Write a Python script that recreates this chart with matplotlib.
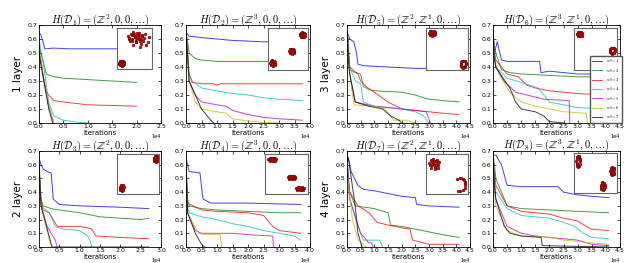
import matplotlib
matplotlib.use("Agg")
from matplotlib import pyplot as plt
import numpy as np

plt.rcParams['mathtext.fontset'] = 'cm'

# x values in units of 1e4 iterations, y = loss
# order of series: w0 = 1..7 (b, g, r, c, m, y, k)
p1 = [
    ([0, 0.05, 0.12, 0.3, 0.6, 1.0, 1.5, 2.0], [0.65, 0.62, 0.53, 0.535, 0.53, 0.53, 0.53, 0.53]),
    ([0, 0.08, 0.15, 0.3, 0.5, 1.0, 1.5, 2.0], [0.55, 0.45, 0.35, 0.33, 0.32, 0.31, 0.3, 0.29]),
    ([0, 0.08, 0.15, 0.3, 0.5, 1.0, 1.5, 2.0], [0.55, 0.35, 0.22, 0.16, 0.15, 0.13, 0.125, 0.12]),
    ([0, 0.1, 0.2, 0.3, 0.5, 0.8, 1.0], [0.6, 0.4, 0.15, 0.05, 0.02, 0.005, 0.0]),
    ([0, 0.1, 0.2, 0.3], [0.5, 0.3, 0.12, 0.0]),
    ([0, 0.1, 0.2, 0.3], [0.52, 0.32, 0.12, 0.0]),
    ([0, 0.1, 0.2, 0.28], [0.5, 0.3, 0.1, 0.0]),
]
p2 = [
    ([0, 0.1, 0.5, 1.0, 1.5, 2.0, 2.5, 3.0, 3.75], [0.65, 0.62, 0.61, 0.6, 0.59, 0.585, 0.58, 0.58, 0.58]),
    ([0, 0.1, 0.3, 0.5, 1.0, 2.0, 3.0, 3.75], [0.67, 0.5, 0.46, 0.45, 0.44, 0.44, 0.44, 0.44]),
    ([0, 0.1, 0.2, 0.5, 0.9, 1.0, 1.1, 2.0, 3.0, 3.75], [0.66, 0.35, 0.29, 0.28, 0.28, 0.27, 0.28, 0.28, 0.28, 0.28]),
    ([0, 0.1, 0.2, 0.5, 1.0, 1.5, 2.0, 2.5, 3.0, 3.75], [0.66, 0.35, 0.3, 0.25, 0.23, 0.21, 0.2, 0.18, 0.17, 0.16]),
    ([0, 0.1, 0.3, 0.5, 1.0, 1.3, 1.5, 2.0, 2.5, 3.0, 3.75], [0.66, 0.3, 0.2, 0.15, 0.13, 0.12, 0.09, 0.06, 0.04, 0.03, 0.02]),
    ([0, 0.1, 0.3, 0.5, 1.0, 1.3, 1.5, 2.0, 2.5, 3.0], [0.66, 0.3, 0.15, 0.1, 0.08, 0.07, 0.03, 0.015, 0.005, 0.0]),
    ([0, 0.1, 0.2, 0.5, 0.8, 0.9], [0.66, 0.3, 0.25, 0.1, 0.02, 0.0]),
]
p3 = [
    ([0, 0.05, 0.1, 0.25, 0.35, 0.4, 0.6, 1.0, 1.5, 2.0, 2.5, 3.0, 4.1], [0.65, 0.63, 0.6, 0.58, 0.5, 0.42, 0.41, 0.405, 0.4, 0.395, 0.39, 0.39, 0.39]),
    ([0, 0.05, 0.1, 0.3, 0.5, 0.6, 0.8, 1.0, 1.5, 2.0, 2.5, 2.8, 3.0, 3.5, 4.1], [0.65, 0.6, 0.38, 0.36, 0.35, 0.26, 0.24, 0.23, 0.225, 0.22, 0.2, 0.18, 0.17, 0.16, 0.15]),
    ([0, 0.05, 0.1, 0.4, 0.5, 0.7, 1.0, 1.5, 2.0, 2.5, 3.0, 3.5, 4.1], [0.65, 0.5, 0.4, 0.35, 0.3, 0.26, 0.22, 0.15, 0.1, 0.09, 0.08, 0.07, 0.06]),
    ([0, 0.05, 0.1, 0.3, 0.5, 0.6, 1.0, 1.5, 2.0, 2.5, 2.8, 3.0], [0.65, 0.5, 0.4, 0.3, 0.28, 0.15, 0.12, 0.11, 0.1, 0.08, 0.05, 0.0]),
    ([0, 0.05, 0.1, 0.3, 1.0, 1.5, 2.0, 2.5, 2.9, 3.05], [0.65, 0.45, 0.35, 0.15, 0.12, 0.11, 0.1, 0.09, 0.08, 0.0]),
    ([0, 0.05, 0.1, 0.25, 1.0, 1.4, 1.7, 2.2, 2.5], [0.6, 0.45, 0.35, 0.13, 0.12, 0.1, 0.02, 0.02, 0.0]),
    ([0, 0.05, 0.1, 0.3, 0.8, 1.3, 1.6, 1.9, 2.0], [0.65, 0.45, 0.35, 0.15, 0.12, 0.1, 0.05, 0.02, 0.0]),
]
p4 = [
    ([0, 0.05, 0.15, 0.3, 0.5, 1.0, 1.65, 1.7, 2.0, 2.5, 3.0, 3.5, 4.0], [0.6, 0.5, 0.58, 0.45, 0.44, 0.44, 0.44, 0.36, 0.37, 0.36, 0.35, 0.35, 0.35]),
    ([0, 0.05, 0.1, 0.3, 0.6, 1.0, 2.0, 3.0, 4.0], [0.66, 0.55, 0.5, 0.38, 0.36, 0.35, 0.34, 0.33, 0.33]),
    ([0, 0.05, 0.1, 0.5, 0.9, 1.2, 1.5, 2.0, 3.0, 4.0], [0.65, 0.5, 0.45, 0.35, 0.33, 0.27, 0.25, 0.23, 0.21, 0.2]),
    ([0, 0.05, 0.1, 0.5, 1.0, 1.6, 2.0, 2.5, 3.0, 4.0], [0.65, 0.5, 0.4, 0.32, 0.29, 0.25, 0.15, 0.13, 0.11, 0.1]),
    ([0, 0.05, 0.1, 0.5, 0.8, 1.2, 1.8, 2.7, 2.72], [0.65, 0.5, 0.4, 0.28, 0.22, 0.2, 0.17, 0.16, 0.0]),
    ([0, 0.05, 0.2, 0.6, 1.0, 1.5, 2.0, 2.5, 3.3, 3.35], [0.6, 0.45, 0.35, 0.22, 0.15, 0.12, 0.1, 0.08, 0.07, 0.0]),
    ([0, 0.05, 0.1, 0.4, 0.6, 0.7, 0.8, 1.0, 1.5, 1.8, 2.0, 2.5], [0.6, 0.45, 0.4, 0.3, 0.25, 0.2, 0.15, 0.1, 0.08, 0.05, 0.01, 0.0]),
]
p5 = [
    ([0, 0.05, 0.1, 0.2, 0.3, 0.35, 0.5, 1.0, 2.0, 2.7], [0.65, 0.6, 0.57, 0.55, 0.54, 0.35, 0.31, 0.3, 0.29, 0.28]),
    ([0, 0.05, 0.1, 0.3, 0.5, 1.0, 1.5, 2.0, 2.5, 2.7], [0.6, 0.35, 0.3, 0.28, 0.27, 0.25, 0.22, 0.21, 0.2, 0.21]),
    ([0, 0.05, 0.1, 0.25, 0.35, 0.45, 1.0, 1.2, 1.3, 1.4, 2.0, 2.7], [0.5, 0.35, 0.27, 0.25, 0.2, 0.15, 0.15, 0.14, 0.13, 0.08, 0.07, 0.06]),
    ([0, 0.05, 0.25, 0.4, 0.6, 1.0, 1.2, 1.25, 1.3], [0.65, 0.3, 0.25, 0.15, 0.13, 0.12, 0.08, 0.05, 0.0]),
    ([0, 0.05, 0.2, 0.3, 0.4, 0.45], [0.6, 0.3, 0.15, 0.1, 0.05, 0.0]),
    ([0, 0.05, 0.3], [0.6, 0.3, 0.0]),
    ([0, 0.05, 0.32, 2.7], [0.6, 0.3, 0.0, 0.0]),
]
p6 = [
    ([0, 0.05, 0.1, 0.45, 0.55, 0.8, 2.0, 3.7], [0.65, 0.6, 0.55, 0.54, 0.35, 0.32, 0.32, 0.31]),
    ([0, 0.05, 0.1, 0.5, 1.0, 2.0, 3.0, 3.7], [0.6, 0.35, 0.3, 0.28, 0.27, 0.26, 0.25, 0.25]),
    ([0, 0.05, 0.5, 1.0, 2.0, 2.5, 2.8, 3.0, 3.7], [0.6, 0.32, 0.27, 0.26, 0.25, 0.23, 0.15, 0.12, 0.1]),
    ([0, 0.05, 0.1, 0.5, 1.0, 1.5, 2.0, 2.5, 3.0, 3.5, 3.7], [0.65, 0.3, 0.25, 0.22, 0.2, 0.17, 0.15, 0.12, 0.1, 0.08, 0.05]),
    ([0, 0.05, 0.3, 0.5, 1.5, 2.0, 2.8, 2.82], [0.6, 0.25, 0.12, 0.1, 0.1, 0.09, 0.08, 0.0]),
    ([0, 0.05, 0.4, 0.6, 1.1, 1.15], [0.6, 0.25, 0.1, 0.09, 0.09, 0.0]),
    ([0, 0.05, 0.3, 0.5, 0.6], [0.6, 0.25, 0.1, 0.02, 0.0]),
]
p7 = [
    ([0, 0.05, 0.15, 0.4, 0.6, 1.0, 1.5, 2.0, 2.5, 2.55, 3.0, 3.5, 4.1], [0.65, 0.65, 0.55, 0.45, 0.42, 0.41, 0.39, 0.37, 0.36, 0.31, 0.3, 0.295, 0.29]),
    ([0, 0.05, 0.1, 0.3, 1.0, 1.5, 1.6, 2.0, 2.5, 3.0, 3.5, 4.1], [0.65, 0.5, 0.4, 0.3, 0.28, 0.25, 0.16, 0.15, 0.13, 0.11, 0.09, 0.07]),
    ([0, 0.05, 0.1, 0.4, 0.8, 1.1, 1.5, 2.0, 2.3, 2.4, 3.0, 4.1], [0.65, 0.5, 0.4, 0.3, 0.25, 0.18, 0.16, 0.14, 0.13, 0.05, 0.02, 0.02]),
    ([0, 0.05, 0.1, 0.4, 0.6, 1.2, 1.3], [0.65, 0.45, 0.35, 0.15, 0.05, 0.05, 0.0]),
    ([0, 0.05, 0.1, 0.5, 0.8, 0.9, 0.95], [0.65, 0.45, 0.35, 0.1, 0.03, 0.03, 0.0]),
    ([0, 0.05, 0.2, 0.4, 0.7], [0.6, 0.45, 0.2, 0.05, 0.0]),
    ([0, 0.05, 0.3, 0.4, 0.55], [0.65, 0.65, 0.3, 0.1, 0.0]),
]
p8 = [
    ([0, 0.1, 0.3, 0.5, 1.0, 2.3, 2.5, 3.0, 3.5, 4.1], [0.67, 0.67, 0.6, 0.45, 0.44, 0.44, 0.4, 0.38, 0.37, 0.36]),
    ([0, 0.05, 0.1, 0.5, 1.0, 2.0, 3.0, 4.1], [0.68, 0.6, 0.5, 0.3, 0.28, 0.27, 0.26, 0.25]),
    ([0, 0.05, 0.1, 0.5, 1.0, 2.0, 2.5, 3.0, 3.3, 3.5, 4.1], [0.66, 0.55, 0.45, 0.3, 0.26, 0.24, 0.21, 0.19, 0.15, 0.13, 0.12]),
    ([0, 0.05, 0.1, 0.5, 1.0, 2.0, 2.5, 2.9, 3.2, 3.5, 4.1], [0.66, 0.5, 0.4, 0.28, 0.23, 0.21, 0.18, 0.15, 0.1, 0.07, 0.06]),
    ([0, 0.05, 0.1, 0.5, 1.0, 1.5, 2.0, 3.0, 3.5, 4.1], [0.65, 0.45, 0.35, 0.15, 0.1, 0.08, 0.07, 0.05, 0.02, 0.01]),
    ([0, 0.05, 0.1, 0.5, 1.0, 2.0, 2.5, 3.0, 3.5, 4.1], [0.6, 0.4, 0.3, 0.12, 0.08, 0.07, 0.05, 0.04, 0.03, 0.02]),
    ([0, 0.05, 0.1, 0.4, 0.6, 1.0, 1.7, 1.75, 4.1], [0.65, 0.45, 0.35, 0.15, 0.1, 0.08, 0.07, 0.01, 0.0]),
]
panels = [p1, p2, p3, p4, p5, p6, p7, p8]

titles = [
    r'$H(\mathcal{D}_1) = (\mathbb{Z}^2, 0, 0, \ldots)$',
    r'$H(\mathcal{D}_2) = (\mathbb{Z}^3, 0, 0, \ldots)$',
    r'$H(\mathcal{D}_5) = (\mathbb{Z}^2, \mathbb{Z}^1, 0, \ldots)$',
    r'$H(\mathcal{D}_6) = (\mathbb{Z}^3, \mathbb{Z}^1, 0, \ldots)$',
    r'$H(\mathcal{D}_3) = (\mathbb{Z}^2, 0, 0, \ldots)$',
    r'$H(\mathcal{D}_4) = (\mathbb{Z}^3, 0, 0, \ldots)$',
    r'$H(\mathcal{D}_7) = (\mathbb{Z}^2, \mathbb{Z}^1, 0, \ldots)$',
    r'$H(\mathcal{D}_8) = (\mathbb{Z}^3, \mathbb{Z}^1, 0, \ldots)$',
]
xmax = [2.5, 4.0, 4.5, 4.5, 3.0, 4.0, 4.5, 4.5]
row_labels = ['1 layer', '2 layer', '3 layer', '4 layer']
legend_labels = [r'$w_0=%d$' % i for i in range(1, 8)]
colors = ['b', 'g', 'r', 'c', 'm', 'y', 'k']

# inset point clouds: unit offsets typed by hand
blob = [(0, 0), (0.5, 0.2), (-0.4, 0.3), (0.2, -0.6), (-0.7, -0.2), (0.8, -0.3),
        (-0.2, 0.8), (0.6, 0.7), (-0.6, -0.7), (0.3, 0.4), (-0.3, -0.3), (0.9, 0.3),
        (-0.9, 0.1), (0.1, -0.9), (0.4, -0.2), (-0.1, 0.5), (0.7, -0.7), (-0.5, 0.6)]
ring = [(1, 0), (0.9, 0.45), (0.55, 0.85), (0, 1), (-0.5, 0.88), (-0.85, 0.5),
        (-1, 0), (-0.88, -0.45), (-0.5, -0.85), (0, -1), (0.5, -0.88), (0.85, -0.5),
        (0.97, 0.2), (-0.95, -0.25), (0.2, 0.97), (-0.25, -0.95)]
arc = [(1, 0), (0.9, 0.45), (0.55, 0.85), (0, 1), (-0.5, 0.88), (0.5, -0.88),
       (0.85, -0.5), (0.97, 0.2), (0.2, 0.97), (0, -1), (-0.3, -0.95), (0.7, 0.7)]
# (cx, cy, rx, ry, shape)
clusters = [
    [(0.62, 0.72, 0.3, 0.2, 'blob'), (0.5, 0.78, 0.22, 0.14, 'blob'), (0.12, 0.15, 0.08, 0.07, 'blob')],
    [(0.87, 0.84, 0.07, 0.07, 'blob'), (0.6, 0.45, 0.07, 0.07, 'blob'), (0.12, 0.17, 0.07, 0.08, 'blob')],
    [(0.15, 0.88, 0.08, 0.07, 'blob'), (0.9, 0.14, 0.06, 0.08, 'ring')],
    [(0.12, 0.86, 0.07, 0.06, 'blob'), (0.88, 0.46, 0.06, 0.07, 'ring'), (0.72, 0.15, 0.06, 0.05, 'blob')],
    [(0.93, 0.88, 0.05, 0.08, 'blob'), (0.11, 0.16, 0.05, 0.08, 'blob')],
    [(0.16, 0.87, 0.1, 0.05, 'blob'), (0.62, 0.42, 0.1, 0.05, 'blob'), (0.82, 0.14, 0.1, 0.05, 'blob')],
    [(0.2, 0.76, 0.13, 0.14, 'blob'), (0.82, 0.24, 0.13, 0.16, 'arc')],
    [(0.09, 0.79, 0.04, 0.13, 'ring'), (0.88, 0.55, 0.05, 0.12, 'blob'), (0.66, 0.18, 0.05, 0.12, 'blob')],
]
shapes = {'blob': blob, 'ring': ring, 'arc': arc}

# axes rectangles in figure pixels (left, top, right, bottom)
W, H = 640, 263
boxes = [(39, 25, 161, 123), (186, 25, 310, 123), (347, 25, 470, 123), (493, 25, 620, 123),
         (39, 151, 161, 247), (186, 151, 310, 247), (347, 151, 470, 247), (493, 151, 620, 247)]
insets = [(0.64, 0.55, 0.29, 0.42), (0.66, 0.54, 0.32, 0.43), (0.64, 0.54, 0.34, 0.43), (0.64, 0.54, 0.34, 0.43),
          (0.64, 0.55, 0.34, 0.42), (0.64, 0.55, 0.34, 0.42), (0.64, 0.55, 0.34, 0.42), (0.64, 0.56, 0.34, 0.42)]

fig = plt.figure(figsize=(6.4, 2.63), dpi=100)

for i, data in enumerate(panels):
    l, t, r, b = boxes[i]
    ax = fig.add_axes([l / W, 1 - b / H, (r - l) / W, (b - t) / H])
    for j, (xs, ys) in enumerate(data):
        ax.plot(np.array(xs) * 1e4, ys, color=colors[j], lw=0.7, alpha=0.75, label=legend_labels[j])
    ax.set_xlim(0, xmax[i] * 1e4)
    ax.set_ylim(0, 0.7)
    ax.set_yticks(np.arange(0, 0.71, 0.1))
    ax.set_xticks(np.arange(0, xmax[i] * 1e4 + 1, 5000))
    ax.ticklabel_format(axis='x', style='sci', scilimits=(0, 0))
    ax.xaxis.get_offset_text().set_fontsize(3.5)
    ax.tick_params(labelsize=4.5, direction='in', top=True, right=True, length=2, width=0.5, pad=1)
    for s in ax.spines.values():
        s.set_linewidth(0.6)
    ax.set_title(titles[i], fontsize=7.5, pad=1.5)
    ax.set_xlabel('Iterations', fontsize=5, labelpad=0.5)

    ins = ax.inset_axes(insets[i])
    ins.set_facecolor('white')
    ins.set_zorder(5)
    for cx, cy, rx, ry, kind in clusters[i]:
        px = [cx + dx * rx for dx, dy in shapes[kind]]
        py = [cy + dy * ry for dx, dy in shapes[kind]]
        ins.scatter(px, py, s=4, color='#cc0000', edgecolor='#550000', linewidth=0.3)
    ins.set_xlim(0, 1)
    ins.set_ylim(0, 1)
    ins.set_xticks([])
    ins.set_yticks([])
    for s in ins.spines.values():
        s.set_color('#666666')
        s.set_linewidth(0.8)

    if i == 3:
        ax.legend(loc='lower right', bbox_to_anchor=(1.03, -0.02), fontsize=3.2, handlelength=2.4,
                  labelspacing=0.35, borderpad=0.35, framealpha=1, edgecolor='#555555', fancybox=False)

# row labels
fig.text(18 / W, 1 - 74 / H, row_labels[0], rotation=90, ha='center', va='center', fontsize=7.5)
fig.text(18 / W, 1 - 199 / H, row_labels[1], rotation=90, ha='center', va='center', fontsize=7.5)
fig.text(326 / W, 1 - 74 / H, row_labels[2], rotation=90, ha='center', va='center', fontsize=7.5)
fig.text(326 / W, 1 - 199 / H, row_labels[3], rotation=90, ha='center', va='center', fontsize=7.5)

fig.savefig('out.png', dpi=100)
